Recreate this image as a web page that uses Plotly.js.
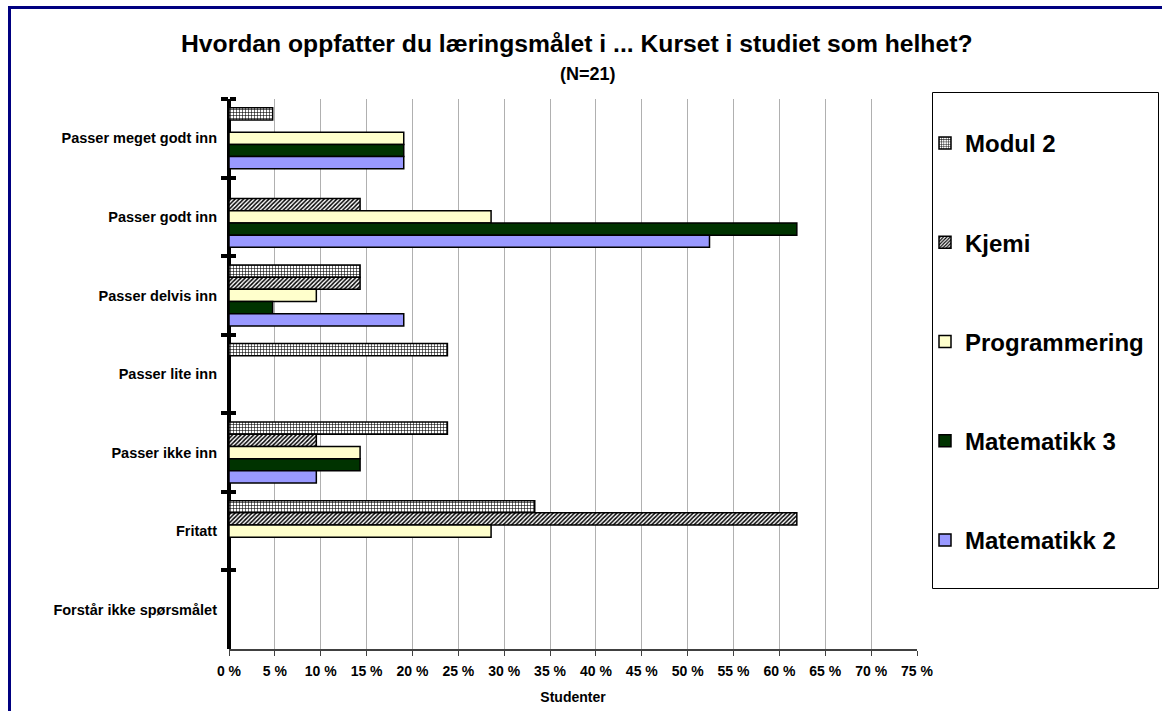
<!DOCTYPE html>
<html>
<head>
<meta charset="utf-8">
<script src="https://cdn.plot.ly/plotly-3.0.1.min.js"></script>
<style>
html,body{margin:0;padding:0;background:#fff;}
#chart{width:1162px;height:711px;}
</style>
</head>
<body>
<div id="chart"></div>
<script>
const categories = ["Passer meget godt inn","Passer godt inn","Passer delvis inn","Passer lite inn","Passer ikke inn","Fritatt","Forstår ikke spørsmålet"];
const seriesNames = ["Modul 2","Kjemi","Programmering","Matematikk 3","Matematikk 2"];
const modul2 = [4.76, 0, 14.29, 23.81, 23.81, 33.33, 0];
const kjemi = [0, 14.29, 14.29, 0, 9.52, 61.90, 0];
const programmering = [19.05, 28.57, 9.52, 0, 14.29, 28.57, 0];
const matematikk3 = [19.05, 61.90, 4.76, 0, 14.29, 0, 0];
const matematikk2 = [19.05, 52.38, 19.05, 0, 9.52, 0, 0];
const xTickVals = [0,5,10,15,20,25,30,35,40,45,50,55,60,65,70,75];
const xTickText = ["0 %","5 %","10 %","15 %","20 %","25 %","30 %","35 %","40 %","45 %","50 %","55 %","60 %","65 %","70 %","75 %"];

const FONT = "Arial, 'Liberation Sans', sans-serif";
const W = 1162, H = 711;
const M = {l:229, r:245, t:99, b:62};
const PW = W - M.l - M.r, PH = H - M.t - M.b;
const px = v => (v - M.l) / PW;
const py = v => (H - M.b - v) / PH;

const styles = [
  {color:'#ffffff', pattern:{shape:'+', fgcolor:'#000000', bgcolor:'#ffffff', size:3, solidity:0.35}},
  {color:'#ffffff', pattern:{shape:'/', fgcolor:'#000000', bgcolor:'#ffffff', size:3, solidity:0.5}},
  {color:'#ffffcc'},
  {color:'#003300'},
  {color:'#9999ff'}
];
const values = [modul2, kjemi, programmering, matematikk3, matematikk2];

const traces = values.map((vals, i) => ({
  type:'bar', orientation:'h', name: seriesNames[i], x: vals, y: categories,
  legendgroup: 'g' + i,
  marker: Object.assign({line:{color:'#000000', width:1.5}}, styles[i]),
  hoverinfo:'x+name'
}));
traces.push({type:'scatter', mode:'markers', marker:{size:1, opacity:0}, x: modul2, y: categories, yaxis:'y2', showlegend:false, hoverinfo:'skip'});

const layout = {
  width: W, height: H,
  margin: M,
  paper_bgcolor:'#ffffff', plot_bgcolor:'#ffffff',
  font:{family:FONT, color:'#000000'},
  barmode:'group', bargap:0.224, bargroupgap:0,
  showlegend:true,
  legend:{x:px(925), y:py(121), xanchor:'left', yanchor:'top', bgcolor:'rgba(0,0,0,0)', borderwidth:0,
    font:{family:FONT, size:24, weight:'bold', color:'#000000'}, tracegroupgap:65, traceorder:'grouped'},
  xaxis:{range:[0,75], tickmode:'array', tickvals:xTickVals, ticktext:xTickText, showgrid:true, gridcolor:'#b0b0b0', gridwidth:1,
    zeroline:true, zerolinecolor:'#000000', zerolinewidth:4,
    showline:true, linecolor:'#404040', linewidth:2, ticks:'outside', ticklen:5, tickwidth:1, tickcolor:'#404040',
    tickfont:{family:FONT, size:14, weight:'bold'}, ticklabelstandoff:3,
    title:{text:'Studenter', font:{family:FONT, size:14, weight:'bold'}, standoff:14}, fixedrange:true},
  yaxis:{type:'category', categoryarray:categories, categoryorder:'array', range:[6.5,-0.5],
    showline:false, ticks:'outside', ticklen:7, tickwidth:4, tickcolor:'#000000',
    tickson:'boundaries', showgrid:false, zeroline:false, tickfont:{family:FONT, size:14.5, weight:'bold'}, ticklabelstandoff:11, fixedrange:true},
  yaxis2:{type:'category', categoryarray:categories, categoryorder:'array', range:[6.5,-0.5], overlaying:'y', side:'right',
    anchor:'free', position:0,
    showline:false, ticks:'outside', ticklen:6, tickwidth:4, tickcolor:'#000000', tickson:'boundaries',
    showticklabels:false, showgrid:false, zeroline:false, fixedrange:true},
  annotations:[
    {text:'Hvordan oppfatter du læringsmålet i ... Kurset i studiet som helhet?', xref:'paper', yref:'paper',
     x:px(576), y:py(43), xanchor:'center', yanchor:'middle', showarrow:false, font:{family:FONT, size:24.7, weight:'bold'}},
    {text:'(N=21)', xref:'paper', yref:'paper', x:px(588), y:py(74), xanchor:'center', yanchor:'middle', showarrow:false,
     font:{family:FONT, size:18, weight:'bold'}}
  ],
  shapes:[
    {type:'rect', xref:'paper', yref:'paper', x0:px(932.5), x1:px(1158.5), y0:py(588.5), y1:py(92.5),
     line:{color:'#000000', width:1}, fillcolor:'rgba(0,0,0,0)'},
    {type:'rect', xref:'paper', yref:'paper', x0:px(9.5), x1:px(1250), y0:py(760), y1:py(7.5),
     line:{color:'#000080', width:3}, fillcolor:'rgba(0,0,0,0)', layer:'below'}
  ]
};

Plotly.newPlot('chart', traces, layout, {displayModeBar:false, staticPlot:true});
</script>
</body>
</html>
